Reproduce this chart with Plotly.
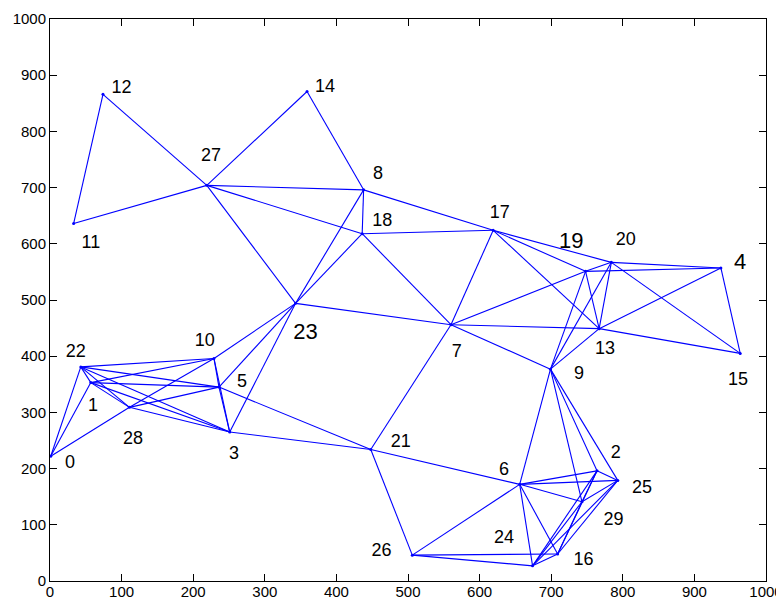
import plotly.graph_objects as go

# Node coordinates (index = node id)
node_x = [1, 57, 764, 251, 937, 236, 656, 560, 438, 699,
          229, 33, 74, 767, 359, 964, 709, 619, 436, 748,
          784, 448, 43, 343, 674, 793, 506, 219, 111, 743]
node_y = [222, 353, 196, 265, 557, 345, 172, 456, 696, 377,
          396, 636, 866, 449, 871, 405, 48, 624, 618, 551,
          567, 234, 381, 494, 27, 179, 46, 704, 309, 141]

# Label positions (data coordinates)
label_x = [28, 60, 790, 257, 964, 268, 634, 568, 458, 739,
           216, 57, 100, 775, 384, 961, 745, 628, 464, 728,
           804, 490, 36, 357, 634, 827, 463, 225, 116, 787]
label_y = [209, 310, 227, 225, 565, 354, 196, 406, 723, 368,
           427, 600, 876, 412, 878, 357, 37, 654, 640, 603,
           605, 246, 407, 440, 75, 164, 52, 756, 252, 108]
big_labels = [4, 19, 23]

# Edges
edges = [
    (11, 12), (12, 27), (11, 27), (27, 14), (14, 8), (27, 8), (27, 18), (27, 23),
    (8, 18), (8, 23), (18, 23), (8, 17), (18, 17), (18, 7), (17, 7),
    (17, 19), (17, 20), (17, 13), (7, 19), (7, 13), (7, 23), (7, 9), (7, 21),
    (19, 20), (19, 4), (20, 4), (20, 15), (4, 15), (4, 13), (13, 15),
    (19, 13), (20, 13), (9, 19), (9, 20), (9, 13),
    (9, 2), (9, 25), (9, 29), (9, 6),
    (6, 2), (6, 25), (6, 29), (6, 16), (6, 24), (6, 26), (6, 21),
    (21, 26), (21, 3), (21, 5), (26, 24), (26, 16),
    (2, 25), (2, 29), (2, 16), (2, 24), (25, 29), (25, 16), (25, 24),
    (29, 16), (29, 24), (16, 24),
    (0, 22), (0, 1), (0, 28), (22, 1), (22, 28), (22, 10), (22, 5), (22, 3),
    (1, 28), (1, 10), (1, 5), (1, 3), (28, 10), (28, 5), (28, 3),
    (10, 5), (10, 3), (10, 23), (5, 3), (5, 23), (3, 23),
]

ex, ey = [], []
for a, b in edges:
    ex += [node_x[a], node_x[b], None]
    ey += [node_y[a], node_y[b], None]

fig = go.Figure()
fig.add_trace(go.Scatter(x=ex, y=ey, mode="lines",
                         line=dict(color="#0000ff", width=1.1),
                         hoverinfo="skip", showlegend=False))
fig.add_trace(go.Scatter(x=node_x, y=node_y, mode="markers",
                         marker=dict(color="#0000ff", size=3),
                         showlegend=False))
fig.add_trace(go.Scatter(
    x=label_x, y=label_y, mode="text",
    text=[str(i) for i in range(len(node_x))],
    textposition="middle center",
    textfont=dict(family="Liberation Sans, Arial, sans-serif",
                  size=[22 if i in big_labels else 18 for i in range(len(node_x))],
                  color="#000000"),
    showlegend=False, hoverinfo="skip"))

axis_common = dict(
    range=[0, 1000], dtick=100, tick0=0,
    ticks="inside", ticklen=7, tickwidth=1, tickcolor="#000000",
    showline=True, linecolor="#000000", linewidth=1, mirror="ticks",
    showgrid=False, zeroline=False,
    tickfont=dict(family="Liberation Sans, Arial, sans-serif", size=15, color="#000000"),
    automargin=False,
)
fig.update_xaxes(**axis_common, ticklabelstandoff=-3)
fig.update_yaxes(**axis_common)
fig.update_layout(
    width=776, height=592,
    margin=dict(l=42, r=18, t=11, b=19),
    paper_bgcolor="white", plot_bgcolor="white",
)
fig.write_html("out.html")
